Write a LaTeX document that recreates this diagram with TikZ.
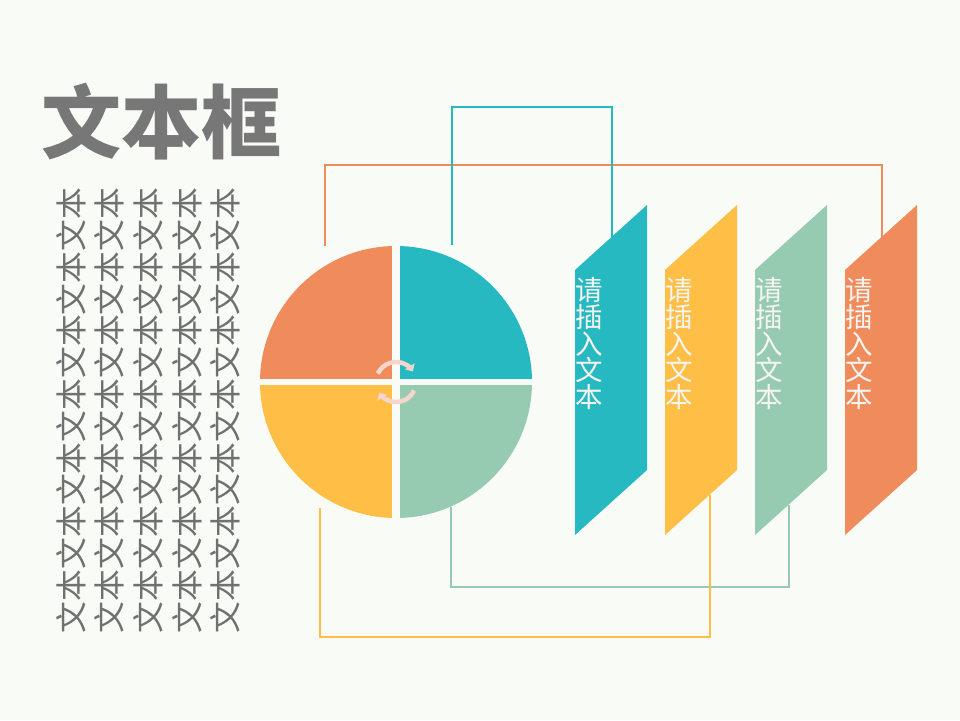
\documentclass[tikz,border=0pt]{standalone}
\usepackage{fontspec}
\newfontfamily\cjk{Noto Sans CJK SC}
\usetikzlibrary{arrows.meta}
\definecolor{bg}{HTML}{F9FBF6}
\definecolor{cOrange}{HTML}{F08C5C}
\definecolor{cTeal}{HTML}{27B9C1}
\definecolor{cYellow}{HTML}{FFBE46}
\definecolor{cGreen}{HTML}{96CBB2}
\definecolor{cGray}{HTML}{777777}
\definecolor{cText}{HTML}{707070}
\definecolor{cIcon}{HTML}{F6D6CC}
\definecolor{cWhite}{HTML}{F4F4F0}
\tikzset{
  titletext/.style={inner sep=0pt, text=cGray, font=\cjk\bfseries\fontsize{80}{80}\selectfont},
  coltext/.style={inner sep=0pt, rotate=90, text=cText, font=\cjk\fontsize{31.8}{31.8}\selectfont},
  boxtext/.style={inner sep=0pt, anchor=north, align=center, text=cWhite, font=\cjk\fontsize{27.5}{26.6}\selectfont},
  conn/.style={line width=2pt},
  iconarc/.style={draw=cIcon, line width=4.5pt, -{Triangle[length=6pt,width=11pt]}},
}
\begin{document}
\begin{tikzpicture}[x=1pt,y=-1pt]
\fill[bg] (0,0) rectangle (960,720);
\useasboundingbox (0,0) rectangle (960,720);

% title
\node[titletext, anchor=west] (title) at (41,122) {文本框};

% vertical text columns
\foreach \x [count=\i] in {71,109.5,148,187,225.5}
  \node[coltext] (col\i) at (\x,410.5) {文本文本文本文本文本文本文本};

% pie
\coordinate (pc) at (396,382);
\fill[cOrange] (pc) -- +(180:136) arc[start angle=180,end angle=270,radius=136] -- cycle;
\fill[cTeal]   (pc) -- +(270:136) arc[start angle=270,end angle=360,radius=136] -- cycle;
\fill[cGreen]  (pc) -- +(0:136) arc[start angle=0,end angle=90,radius=136] -- cycle;
\fill[cYellow] (pc) -- +(90:136) arc[start angle=90,end angle=180,radius=136] -- cycle;
\fill[bg] (392,240) rectangle (400,524);
\fill[bg] (254,378.5) rectangle (538,385);

% refresh icon
\draw[iconarc] (pc) ++(-155:20) arc[start angle=-155,end angle=-32,radius=20];
\draw[iconarc] (pc) ++(25:20) arc[start angle=25,end angle=148,radius=20];

% parallelograms
\foreach \c [count=\i] in {cTeal,cYellow,cGreen,cOrange}{
  \pgfmathsetmacro{\xo}{575+90*(\i-1)}
  \coordinate (p\i a) at (\xo,270);
  \coordinate (p\i b) at (\xo+72,205);
  \coordinate (p\i c) at (\xo+72,470);
  \coordinate (p\i d) at (\xo,535);
  \fill[\c] (p\i a) -- (p\i b) -- (p\i c) -- (p\i d) -- cycle;
  \node[boxtext] (t\i) at (\xo+14.5,277.5) {请\\插\\入\\文\\本};
}

% connectors
\coordinate (oA) at (325,246);
\coordinate (oB) at (882,236.5);
\coordinate (tA) at (452,245);
\coordinate (tB) at (612,236.5);
\coordinate (yA) at (320,508);
\coordinate (yB) at (710,495);
\coordinate (gA) at (451,507);
\coordinate (gB) at (789,504.5);

\draw[conn, cOrange] (oA) -- ++(0,-81) -| (oB);
\draw[conn, cTeal] (tA) -- ++(0,-138) -| (tB);
\draw[conn, cGreen] (gA) -- ++(0,80) -| (gB);
\draw[conn, cYellow] (yA) -- ++(0,129) -| (yB);
\end{tikzpicture}
\end{document}
